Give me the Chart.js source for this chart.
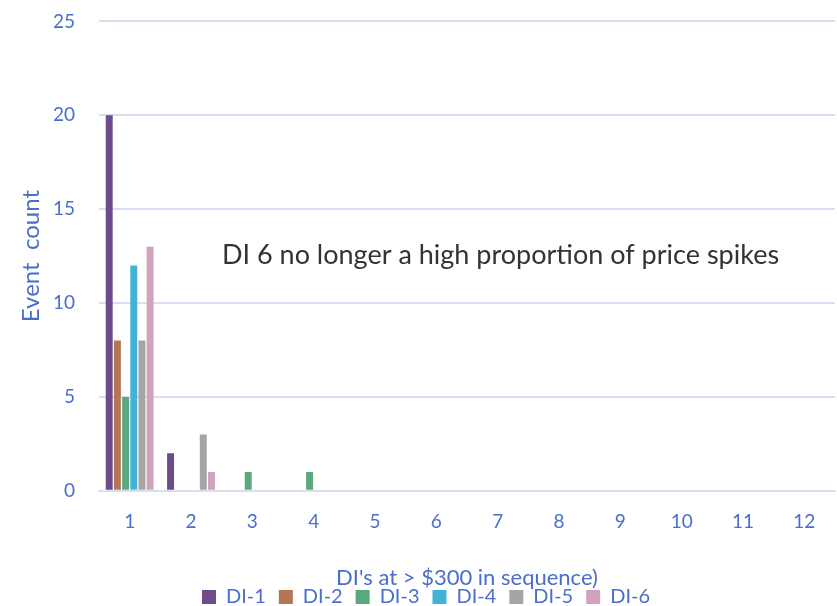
<!DOCTYPE html>
<html>
<head>
<meta charset="utf-8">
<script src="https://cdn.jsdelivr.net/npm/chart.js@4"></script>
<style>
  html, body { margin: 0; padding: 0; background: #fff; }
</style>
</head>
<body>
<canvas id="chart" width="837" height="606"></canvas>
<script>
const categories = ['1', '2', '3', '4', '5', '6', '7', '8', '9', '10', '11', '12'];
const di1 = [20, 2, 0, 0, 0, 0, 0, 0, 0, 0, 0, 0];
const di2 = [8, 0, 0, 0, 0, 0, 0, 0, 0, 0, 0, 0];
const di3 = [5, 0, 1, 1, 0, 0, 0, 0, 0, 0, 0, 0];
const di4 = [12, 0, 0, 0, 0, 0, 0, 0, 0, 0, 0, 0];
const di5 = [8, 3, 0, 0, 0, 0, 0, 0, 0, 0, 0, 0];
const di6 = [13, 1, 0, 0, 0, 0, 0, 0, 0, 0, 0, 0];

const blue = '#4A6ECF';
const grid = '#D9DEF2';
const fontFam = 'Lato, "Open Sans", sans-serif';

// text note inside the plot
const note = {
  id: 'note',
  afterDraw(chart) {
    const c = chart.ctx;
    const a = chart.chartArea;
    c.save();
    c.fillStyle = '#333333';
    c.font = '27px ' + fontFam;
    c.textBaseline = 'middle';
    c.fillText('DI 6 no longer a high proportion of price spikes', a.left + 123, 255);
    c.restore();
  }
};

const ctx = document.getElementById('chart').getContext('2d');
new Chart(ctx, {
  type: 'bar',
  data: {
    labels: categories,
    datasets: [
      { label: 'DI-1', data: di1, backgroundColor: '#6E4C8B' },
      { label: 'DI-2', data: di2, backgroundColor: '#B27754' },
      { label: 'DI-3', data: di3, backgroundColor: '#5AA97C' },
      { label: 'DI-4', data: di4, backgroundColor: '#44B2D7' },
      { label: 'DI-5', data: di5, backgroundColor: '#A5A5A5' },
      { label: 'DI-6', data: di6, backgroundColor: '#D0A2BE' }
    ]
  },
  options: {
    responsive: false,
    animation: false,
    layout: { padding: { left: 17, right: 2, top: 0, bottom: -11 } },
    datasets: { bar: { categoryPercentage: 0.8, barPercentage: 0.85 } },
    plugins: {
      legend: {
        position: 'bottom',
        labels: {
          color: blue,
          font: { family: fontFam, size: 20 },
          boxWidth: 14,
          boxHeight: 14,
          padding: 13
        }
      },
      tooltip: { enabled: false }
    },
    scales: {
      x: {
        grid: { display: false },
        border: { color: grid, width: 2 },
        ticks: { color: blue, font: { family: fontFam, size: 19 }, padding: 12 },
        title: {
          display: true,
          text: "DI's at > $300 in sequence)",
          color: blue,
          font: { family: fontFam, size: 22 },
          padding: { top: 19, bottom: -17 }
        }
      },
      y: {
        min: 0,
        max: 25,
        afterFit(scale) { scale.width = 82; },
        ticks: { stepSize: 5, color: blue, font: { family: fontFam, size: 19 }, padding: 10 },
        grid: { color: grid, lineWidth: 2, drawTicks: true, tickLength: 14, tickColor: 'rgba(0,0,0,0)' },
        border: { display: false },
        title: {
          display: true,
          text: 'Event  count',
          color: blue,
          font: { family: fontFam, size: 24 },
          padding: { top: 0, bottom: 8 }
        }
      }
    }
  },
  plugins: [note]
});
</script>
</body>
</html>
